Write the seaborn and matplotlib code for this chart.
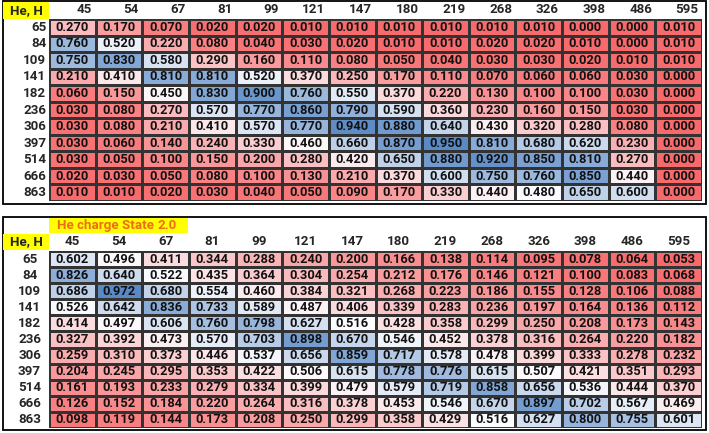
import numpy as np
import pandas as pd
import seaborn as sns
import matplotlib.pyplot as plt
from matplotlib.colors import LinearSegmentedColormap
from matplotlib.patches import Rectangle
from matplotlib.transforms import ScaledTranslation

# He energies (columns) and H energies (rows)
he_cols = [45, 54, 67, 81, 99, 121, 147, 180, 219, 268, 326, 398, 486, 595]
h_rows = [65, 84, 109, 141, 182, 236, 306, 397, 514, 666, 863]

# top table values
top_vals = [
    [0.270, 0.170, 0.070, 0.020, 0.020, 0.010, 0.010, 0.010, 0.010, 0.010, 0.010, 0.000, 0.000, 0.010],
    [0.760, 0.520, 0.220, 0.080, 0.040, 0.030, 0.020, 0.010, 0.010, 0.020, 0.020, 0.010, 0.000, 0.010],
    [0.750, 0.830, 0.580, 0.290, 0.160, 0.110, 0.080, 0.050, 0.040, 0.030, 0.030, 0.020, 0.010, 0.010],
    [0.210, 0.410, 0.810, 0.810, 0.520, 0.370, 0.250, 0.170, 0.110, 0.070, 0.060, 0.060, 0.030, 0.000],
    [0.060, 0.150, 0.450, 0.830, 0.900, 0.760, 0.550, 0.370, 0.220, 0.130, 0.100, 0.100, 0.030, 0.000],
    [0.030, 0.080, 0.270, 0.570, 0.770, 0.860, 0.790, 0.590, 0.360, 0.230, 0.160, 0.150, 0.030, 0.000],
    [0.030, 0.080, 0.210, 0.410, 0.570, 0.770, 0.940, 0.880, 0.640, 0.430, 0.320, 0.280, 0.080, 0.000],
    [0.030, 0.060, 0.140, 0.240, 0.330, 0.460, 0.660, 0.870, 0.950, 0.810, 0.680, 0.620, 0.230, 0.000],
    [0.030, 0.050, 0.100, 0.150, 0.200, 0.280, 0.420, 0.650, 0.880, 0.920, 0.850, 0.810, 0.270, 0.000],
    [0.020, 0.030, 0.050, 0.080, 0.100, 0.130, 0.210, 0.370, 0.600, 0.750, 0.760, 0.850, 0.440, 0.000],
    [0.010, 0.010, 0.020, 0.030, 0.040, 0.050, 0.090, 0.170, 0.330, 0.440, 0.480, 0.650, 0.600, 0.000],
]

# bottom table values (He charge state 2.0)
bottom_vals = [
    [0.602, 0.496, 0.411, 0.344, 0.288, 0.240, 0.200, 0.166, 0.138, 0.114, 0.095, 0.078, 0.064, 0.053],
    [0.826, 0.640, 0.522, 0.435, 0.364, 0.304, 0.254, 0.212, 0.176, 0.146, 0.121, 0.100, 0.083, 0.068],
    [0.686, 0.972, 0.680, 0.554, 0.460, 0.384, 0.321, 0.268, 0.223, 0.186, 0.155, 0.128, 0.106, 0.088],
    [0.526, 0.642, 0.836, 0.733, 0.589, 0.487, 0.406, 0.339, 0.283, 0.236, 0.197, 0.164, 0.136, 0.112],
    [0.414, 0.497, 0.606, 0.760, 0.798, 0.627, 0.516, 0.428, 0.358, 0.299, 0.250, 0.208, 0.173, 0.143],
    [0.327, 0.392, 0.473, 0.570, 0.703, 0.898, 0.670, 0.546, 0.452, 0.378, 0.316, 0.264, 0.220, 0.182],
    [0.259, 0.310, 0.373, 0.446, 0.537, 0.656, 0.859, 0.717, 0.578, 0.478, 0.399, 0.333, 0.278, 0.232],
    [0.204, 0.245, 0.295, 0.353, 0.422, 0.506, 0.615, 0.778, 0.776, 0.615, 0.507, 0.421, 0.351, 0.293],
    [0.161, 0.193, 0.233, 0.279, 0.334, 0.399, 0.479, 0.579, 0.719, 0.858, 0.656, 0.536, 0.444, 0.370],
    [0.126, 0.152, 0.184, 0.220, 0.264, 0.316, 0.378, 0.453, 0.546, 0.670, 0.897, 0.702, 0.567, 0.469],
    [0.098, 0.119, 0.144, 0.173, 0.208, 0.250, 0.299, 0.358, 0.429, 0.516, 0.627, 0.800, 0.755, 0.601],
]

sns.set_style("white")
plt.rcParams['font.family'] = ['Roboto', 'DejaVu Sans']

W, H = 709, 433
fig = plt.figure(figsize=(W / 100, H / 100), dpi=100)

# excel-like red / white / blue color scale
cmap = LinearSegmentedColormap.from_list("excel", ["#F8696B", "#FCFCFF", "#5A8AC6"])
FS = 9.3
WT = "bold"


def px(x0, y0, x1, y1):
    # pixel box (from top-left) -> figure fraction rect
    return [x0 / W, 1 - y1 / H, (x1 - x0) / W, (y1 - y0) / H]


def table(vals, rect, header_right):
    df = pd.DataFrame(vals, index=h_rows, columns=he_cols)
    ax = fig.add_axes(rect)
    sns.heatmap(df, ax=ax, cmap=cmap, vmin=df.values.min(), vmax=df.values.max(),
                annot=True, fmt=".3f", cbar=False, linewidths=0.75, linecolor="#333333",
                annot_kws={"fontsize": FS, "fontweight": WT, "color": "#111111"})
    ax.xaxis.tick_top()
    ax.tick_params(length=0)
    ax.set_xlabel("")
    ax.set_ylabel("")
    if header_right:
        ax.tick_params(axis="x", pad=2)
        ax.tick_params(axis="y", pad=2)
        shift = ScaledTranslation(0.2, 0, fig.dpi_scale_trans)
        for lbl in ax.get_xticklabels():
            lbl.set_ha("right")
            lbl.set_transform(lbl.get_transform() + shift)
    else:
        ax.tick_params(axis="x", pad=2)
        ax.tick_params(axis="y", pad=14)
        for lbl in ax.get_yticklabels():
            lbl.set_ha("center")
    for lbl in ax.get_xticklabels() + ax.get_yticklabels():
        lbl.set_fontsize(FS + 0.3)
        lbl.set_fontweight(WT)
        lbl.set_rotation(0)
    return ax


# top table
table(top_vals, px(49, 19, 702, 201), header_right=True)
fig.patches.append(Rectangle((3 / W, 1 - 204 / H), 703 / W, 203 / H, transform=fig.transFigure,
                             fill=False, edgecolor="black", linewidth=1.3))
fig.patches.append(Rectangle((3 / W, 1 - 18.5 / H), 46 / W, 16 / H, transform=fig.transFigure,
                             facecolor="#FFFF00", edgecolor="none"))
fig.text(26 / W, 1 - 10.5 / H, "He, H", ha="center", va="center", fontsize=FS + 0.3, fontweight=WT)

# bottom table
table(bottom_vals, px(49, 251, 702, 428), header_right=False)
fig.patches.append(Rectangle((3 / W, 1 - 430 / H), 703 / W, 213 / H, transform=fig.transFigure,
                             fill=False, edgecolor="black", linewidth=1.3))
fig.patches.append(Rectangle((3 / W, 1 - 250 / H), 46 / W, 16 / H, transform=fig.transFigure,
                             facecolor="#FFFF00", edgecolor="none"))
fig.text(26 / W, 1 - 242 / H, "He, H", ha="center", va="center", fontsize=FS + 0.3, fontweight=WT)
fig.patches.append(Rectangle((49 / W, 1 - 232.5 / H), 139 / W, 14.5 / H, transform=fig.transFigure,
                             facecolor="#FFFF00", edgecolor="none"))
fig.text(57 / W, 1 - 225.5 / H, "He charge State", ha="left", va="center", fontsize=FS + 0.3,
         fontweight=WT, color="#F26B1D")
fig.text(157 / W, 1 - 225.5 / H, "2.0", ha="left", va="center", fontsize=FS + 0.3,
         fontweight=WT, color="#F26B1D")

fig.savefig("out.png", dpi=100)
